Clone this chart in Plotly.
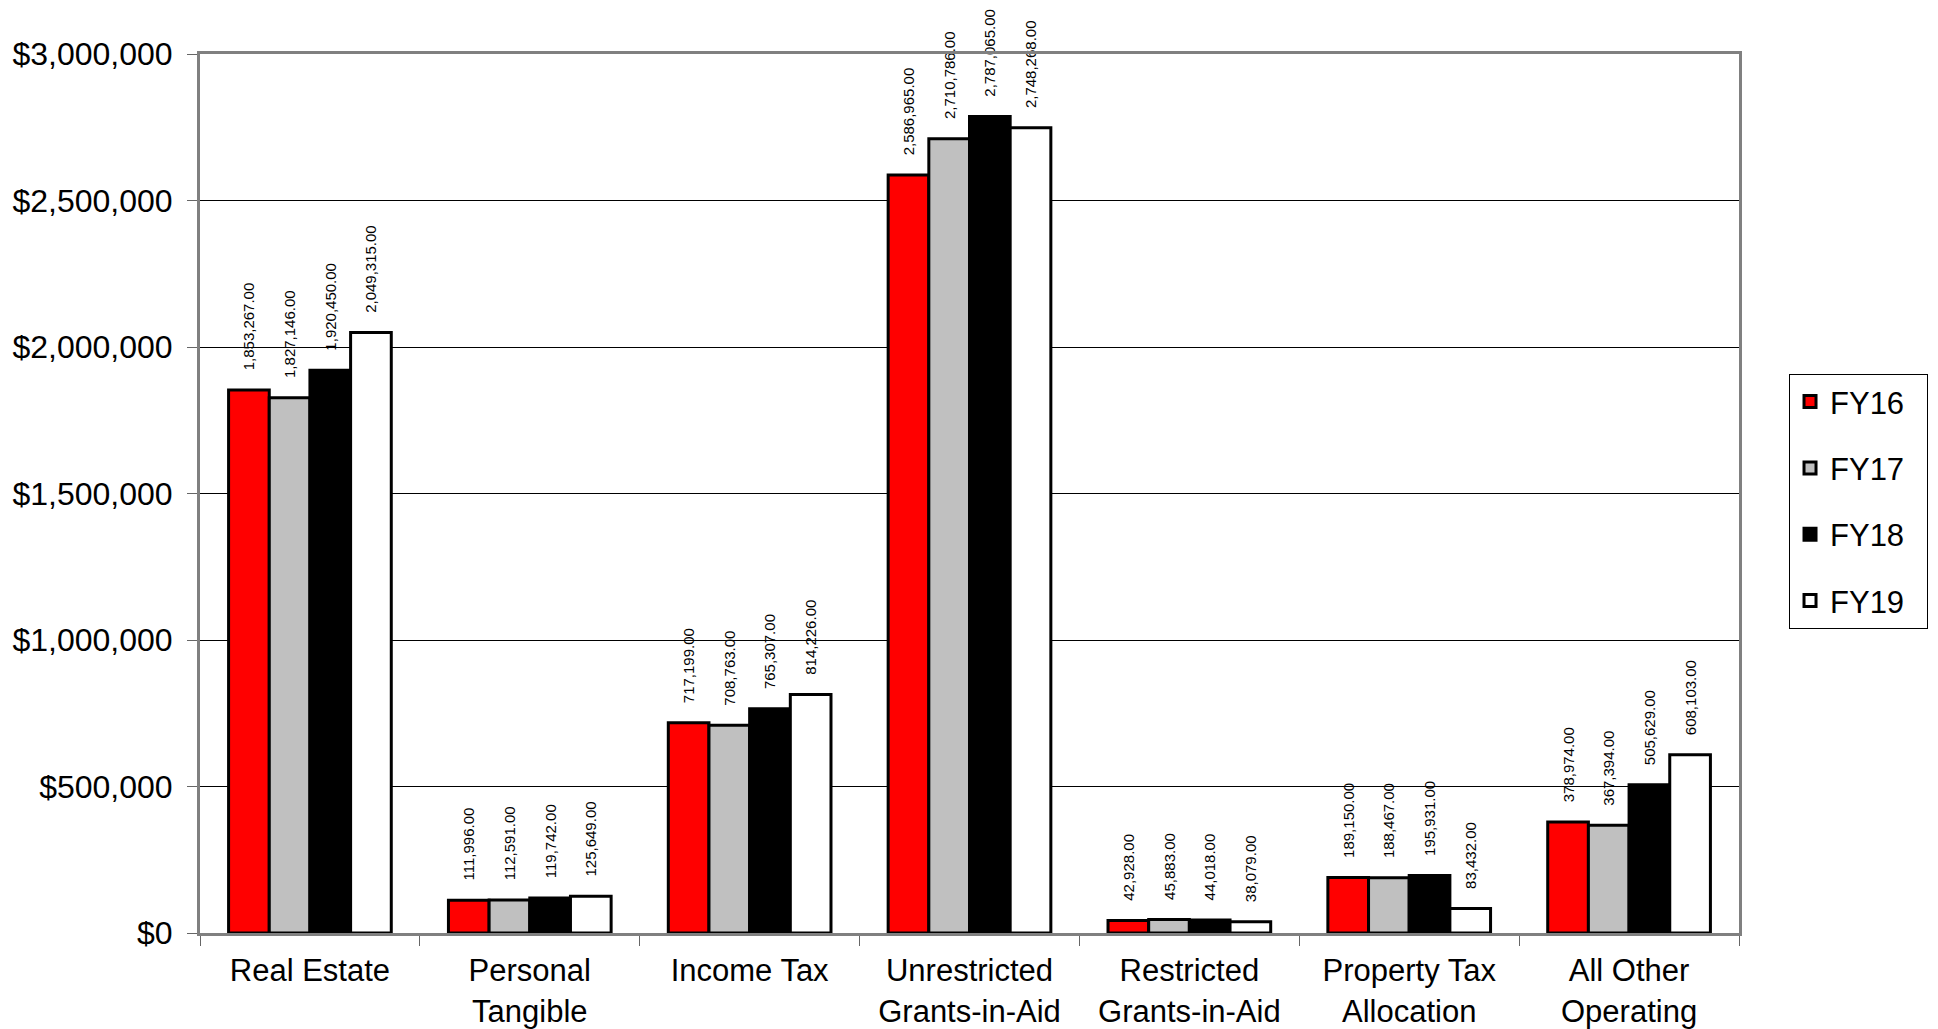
import plotly.graph_objects as go

categories = ["Real Estate", "Personal<br>Tangible", "Income Tax", "Unrestricted<br>Grants-in-Aid",
              "Restricted<br>Grants-in-Aid", "Property Tax<br>Allocation", "All Other<br>Operating"]
series_names = ["FY16", "FY17", "FY18", "FY19"]
fy16 = [1853267, 111996, 717199, 2586965, 42928, 189150, 378974]
fy17 = [1827146, 112591, 708763, 2710786, 45883, 188467, 367394]
fy18 = [1920450, 119742, 765307, 2787065, 44018, 195931, 505629]
fy19 = [2049315, 125649, 814226, 2748268, 38079, 83432, 608103]
series_values = [fy16, fy17, fy18, fy19]
series_colors = ["#FF0000", "#C0C0C0", "#000000", "#FFFFFF"]
y_ticks = [0, 500000, 1000000, 1500000, 2000000, 2500000, 3000000]
y_tick_labels = ["$0", "$500,000", "$1,000,000", "$1,500,000", "$2,000,000", "$2,500,000", "$3,000,000"]

FONT = "Liberation Sans, Arial, sans-serif"
LEGEND_PAD = "\u00a0" * 2

fig = go.Figure()
for i, (name, vals, col) in enumerate(zip(series_names, series_values, series_colors)):
    fig.add_trace(go.Bar(
        x=categories, y=vals, name=name + LEGEND_PAD,
        marker=dict(color=col, line=dict(color="black", width=3)),
        texttemplate="\u00a0" * 4 + "%{y:,.2f}",
        textposition="outside", textangle=-90,
        textfont=dict(family=FONT, size=15, color="black"),
        constraintext="none", cliponaxis=False,
        legendgroup=name,
    ))

fig.update_layout(
    width=1930, height=1021,
    margin=dict(l=192, r=199, t=46, b=96, autoexpand=False),
    paper_bgcolor="white", plot_bgcolor="white",
    barmode="group", bargap=0.26, bargroupgap=0,
    font=dict(family=FONT, size=31, color="black"),
    showlegend=True,
    legend=dict(x=1.0325, y=0.636, xanchor="left", yanchor="top",
                bordercolor="black", borderwidth=1, bgcolor="white",
                font=dict(family=FONT, size=31, color="black"),
                tracegroupgap=23, traceorder="grouped",
                itemwidth=30),
)
fig.update_xaxes(
    automargin=False,
    showline=True, linecolor="#808080", linewidth=3, mirror=True,
    ticks="outside", tickson="boundaries", ticklen=10, tickcolor="#666666", tickwidth=1,
    showgrid=False, ticklabelstandoff=8,
    tickfont=dict(family=FONT, size=31, color="black"),
)
fig.update_yaxes(
    automargin=False,
    range=[0, 3000000], tickvals=y_ticks, ticktext=y_tick_labels,
    showline=True, linecolor="#808080", linewidth=3, mirror=True,
    ticks="outside", ticklen=10, tickcolor="#666666", tickwidth=1,
    showgrid=True, gridcolor="#000000", gridwidth=1, zeroline=False,
    ticklabelstandoff=8,
    tickfont=dict(family=FONT, size=32, color="black"),
)

fig.write_html("out.html")
